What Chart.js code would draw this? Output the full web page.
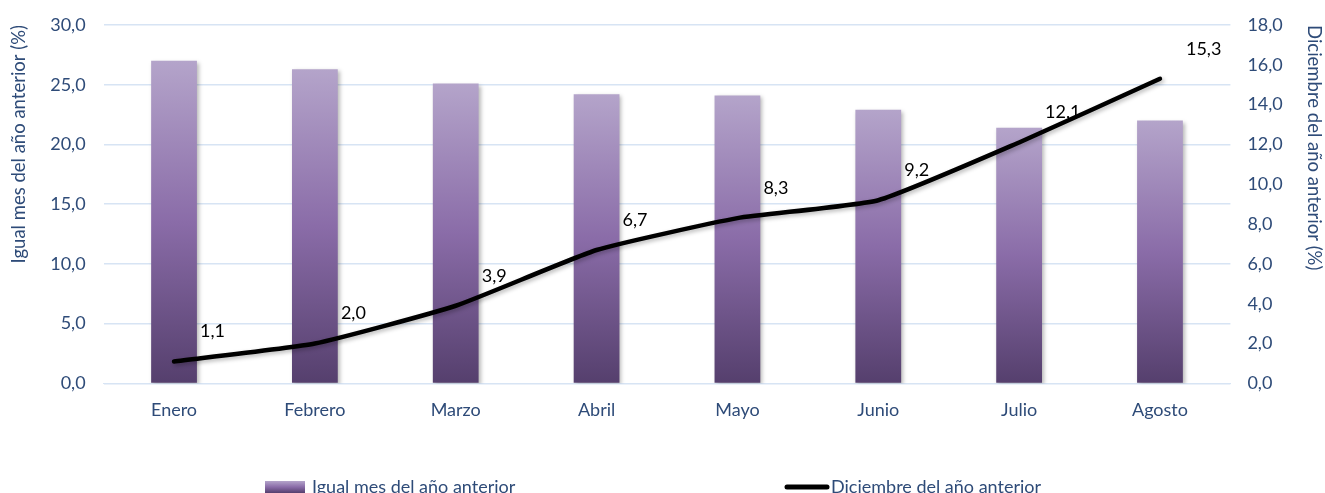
<!DOCTYPE html>
<html>
<head>
<meta charset="utf-8">
<script src="https://cdn.jsdelivr.net/npm/chart.js@4"></script>
<style>
  html, body { margin: 0; padding: 0; background: #fff; overflow: hidden; }
  #wrap { width: 1325px; height: 493px; }
</style>
</head>
<body>
<div id="wrap"><canvas id="chart" width="1325" height="493"></canvas></div>
<script>
const months = ["Enero", "Febrero", "Marzo", "Abril", "Mayo", "Junio", "Julio", "Agosto"];
const sameMonthPrevYear = [27.0, 26.3, 25.1, 24.2, 24.1, 22.9, 21.4, 22.0];
const vsDecemberPrevYear = [1.1, 2.0, 3.9, 6.7, 8.3, 9.2, 12.1, 15.3];
const leftTicks = [0, 5, 10, 15, 20, 25, 30];
const rightTicks = [0, 2, 4, 6, 8, 10, 12, 14, 16, 18];

const blue = "#2E4B78";
const gridBlue = "#D7E4F4";
const fontFamily = "Lato, 'Liberation Sans', sans-serif";

const fmt = v => Number(v).toFixed(1).replace(".", ",");

function barGradient(ctx, top, bottom) {
  const g = ctx.createLinearGradient(0, top, 0, bottom);
  g.addColorStop(0, "#B4A4CA");
  g.addColorStop(0.5, "#8A6CA8");
  g.addColorStop(1, "#553F6D");
  return g;
}

// tick padding on y axes also pads top/bottom; keep only the label half-height
const trimPadding = axis => {
  axis.paddingTop = 11;
  axis.paddingBottom = 11;
};

// soft shadow under bars and line
const shadowPlugin = {
  id: "shadow",
  beforeDatasetDraw(chart) {
    const c = chart.ctx;
    c.save();
    c.shadowColor = "rgba(0,0,0,0.28)";
    c.shadowBlur = 4;
    c.shadowOffsetX = 2;
    c.shadowOffsetY = 2;
  },
  afterDatasetDraw(chart) {
    chart.ctx.restore();
  }
};

// value labels for the line series
const lineLabels = {
  id: "lineLabels",
  afterDatasetsDraw(chart) {
    const c = chart.ctx;
    const meta = chart.getDatasetMeta(1);
    const data = chart.data.datasets[1].data;
    c.save();
    c.fillStyle = "#000";
    c.font = "18px " + fontFamily;
    c.textAlign = "left";
    c.textBaseline = "middle";
    meta.data.forEach((pt, i) => {
      c.fillText(fmt(data[i]), pt.x + 26, pt.y - 30);
    });
    c.restore();
  }
};

// legend at the bottom, spread out like the original
const bottomLegend = {
  id: "bottomLegend",
  afterDraw(chart) {
    const c = chart.ctx;
    const ds = chart.data.datasets;
    const y = 487;
    c.save();
    c.font = "18px " + fontFamily;
    c.textBaseline = "middle";
    c.textAlign = "left";
    c.fillStyle = barGradient(c, 481, 493);
    c.fillRect(265, 481, 40, 12);
    c.fillStyle = blue;
    c.fillText(ds[0].label, 312, y);
    c.strokeStyle = "#000";
    c.lineWidth = 5;
    c.lineCap = "round";
    c.beginPath();
    c.moveTo(787, y);
    c.lineTo(827, y);
    c.stroke();
    c.fillStyle = blue;
    c.fillText(ds[1].label, 831, y);
    c.restore();
  }
};

new Chart(document.getElementById("chart"), {
  type: "bar",
  data: {
    labels: months,
    datasets: [
      {
        type: "bar",
        label: "Igual mes del año anterior",
        data: sameMonthPrevYear,
        yAxisID: "y",
        order: 1,
        barPercentage: 0.65,
        categoryPercentage: 0.5,
        backgroundColor: (context) => {
          const chart = context.chart;
          const ys = chart.scales.y;
          if (!ys || context.raw === undefined) return "#8A6CA8";
          const top = ys.getPixelForValue(context.raw);
          const bottom = ys.getPixelForValue(0);
          if (!isFinite(top) || !isFinite(bottom) || top === bottom) return "#8A6CA8";
          return barGradient(chart.ctx, top, bottom);
        },
        borderWidth: 0
      },
      {
        type: "line",
        label: "Diciembre del año anterior",
        data: vsDecemberPrevYear,
        yAxisID: "y1",
        order: 0,
        borderColor: "#000",
        borderWidth: 4.5,
        borderCapStyle: "round",
        tension: 0.15,
        pointRadius: 0,
        fill: false
      }
    ]
  },
  options: {
    responsive: false,
    animation: false,
    layout: { padding: { left: 8, right: 0, top: 25, bottom: 56 } },
    plugins: {
      legend: { display: false },
      tooltip: { enabled: false }
    },
    scales: {
      x: {
        grid: { display: false, drawTicks: false },
        border: { display: true, color: gridBlue, width: 1 },
        ticks: { color: blue, font: { family: fontFamily, size: 18 }, padding: 16 }
      },
      y: {
        position: "left",
        min: 0,
        max: 30,
        afterBuildTicks: axis => { axis.ticks = leftTicks.map(v => ({ value: v })); },
        afterFit: trimPadding,
        grid: { color: gridBlue, lineWidth: 1.5, drawTicks: false },
        border: { display: false },
        ticks: { color: blue, font: { family: fontFamily, size: 18 }, padding: 18, callback: v => fmt(v) },
        title: {
          display: true,
          text: "Igual mes del año anterior (%)",
          align: "end",
          color: blue,
          font: { family: fontFamily, size: 18.5 },
          padding: { top: 0, bottom: 2 }
        }
      },
      y1: {
        position: "right",
        min: 0,
        max: 18,
        afterBuildTicks: axis => { axis.ticks = rightTicks.map(v => ({ value: v })); },
        afterFit: trimPadding,
        grid: { display: false, drawTicks: false },
        border: { display: false },
        ticks: { color: blue, font: { family: fontFamily, size: 18 }, padding: 17, callback: v => fmt(v) },
        title: {
          display: true,
          text: "Diciembre del año anterior (%)",
          align: "end",
          color: blue,
          font: { family: fontFamily, size: 18.5 },
          padding: { top: 0, bottom: 3 }
        }
      }
    }
  },
  plugins: [shadowPlugin, lineLabels, bottomLegend]
});
</script>
</body>
</html>
